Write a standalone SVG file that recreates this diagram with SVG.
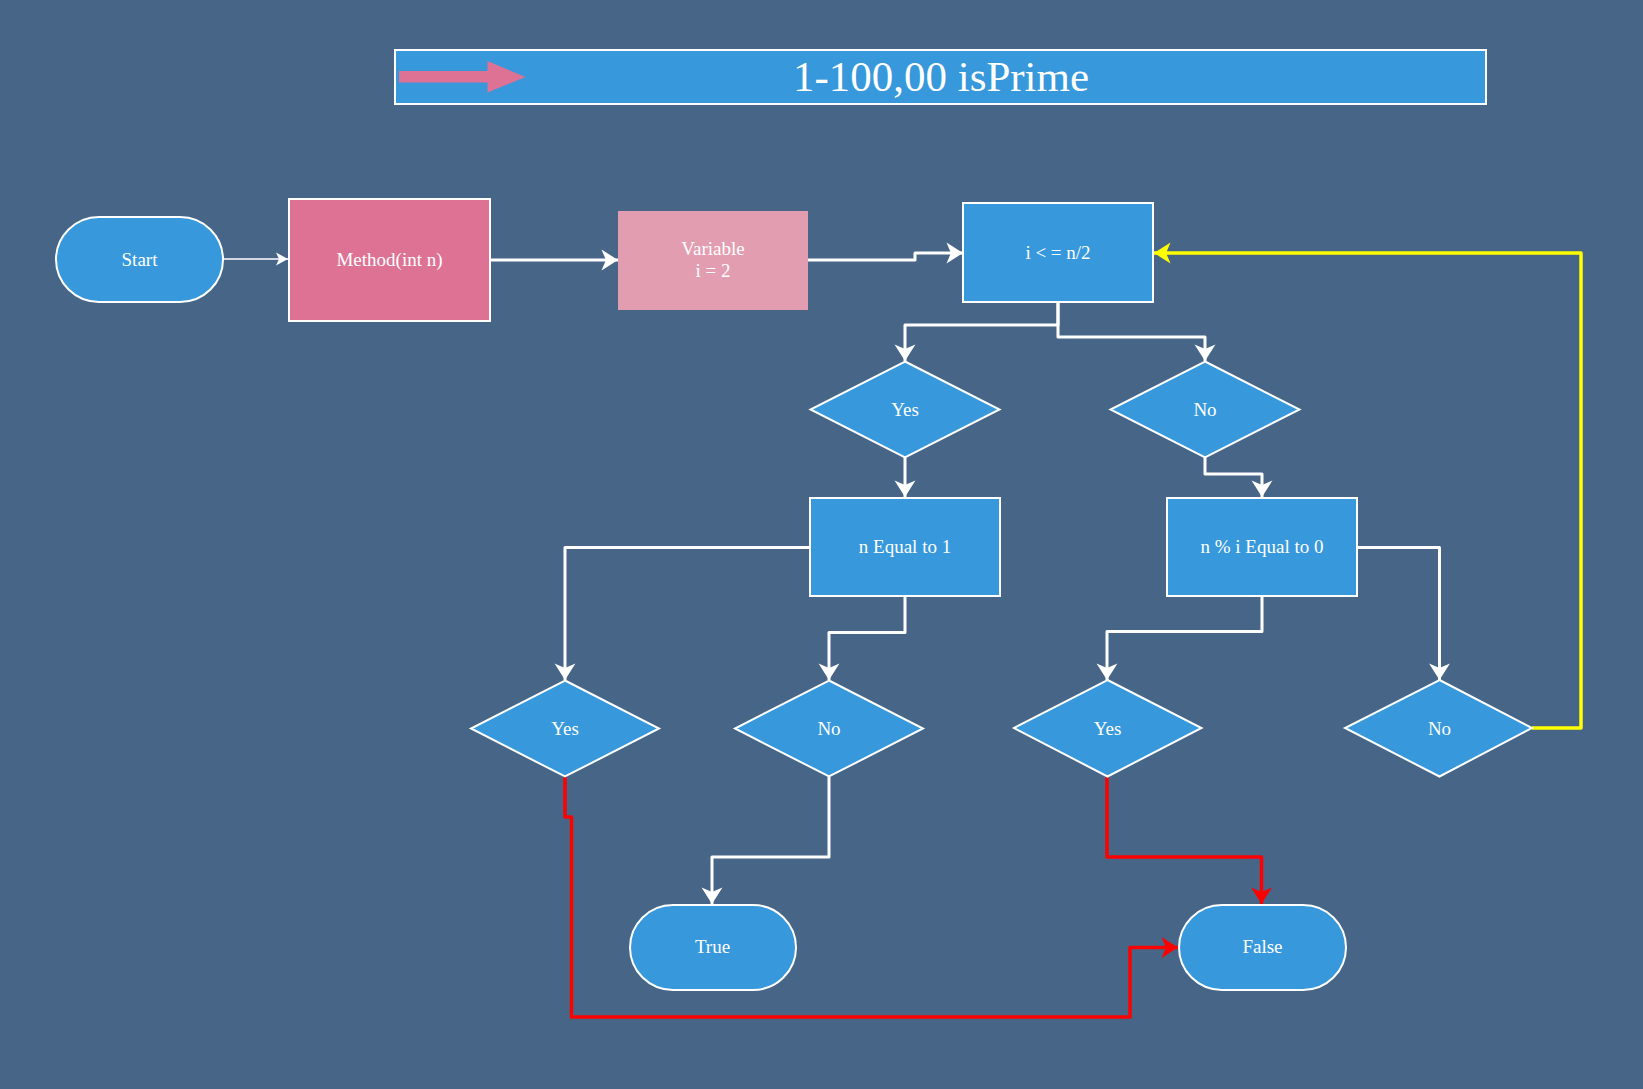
<svg xmlns="http://www.w3.org/2000/svg" width="1643" height="1089" viewBox="0 0 1643 1089">
<style>
.bg{fill:#476687}
.blue{fill:#3798db;stroke:#ffffff;stroke-width:2}
.pink{fill:#dd7295;stroke:#ffffff;stroke-width:2}
.lpink{fill:#e39db0}
.lbl{font-family:"Liberation Serif","Times New Roman",serif;font-size:19px;fill:#ffffff;text-anchor:middle}
.w{fill:none;stroke:#ffffff;stroke-width:3;stroke-linejoin:round}
.wt{fill:none;stroke:#ffffff;stroke-width:1.5}
.r{fill:none;stroke:#ff0000;stroke-width:3.5;stroke-linejoin:round}
.y{fill:none;stroke:#ffff00;stroke-width:3.5;stroke-linejoin:round}
</style>
<defs>
<marker id="aw" markerUnits="userSpaceOnUse" markerWidth="20" markerHeight="22" viewBox="-16 -10 17 20" refX="0" refY="0" orient="auto">
<path d="M-15,-9.5 L0,0 L-15,9.5 L-11,0 Z" fill="#ffffff"/>
</marker>
<marker id="aws" markerUnits="userSpaceOnUse" markerWidth="16" markerHeight="16" viewBox="-13 -8 14 16" refX="0" refY="0" orient="auto">
<path d="M-12,-6.5 L0,0 L-12,6.5 L-9,0 Z" fill="#ffffff"/>
</marker>
<marker id="ar" markerUnits="userSpaceOnUse" markerWidth="20" markerHeight="22" viewBox="-16 -10 17 20" refX="0" refY="0" orient="auto">
<path d="M-15,-9.5 L0,0 L-15,9.5 L-11,0 Z" fill="#ff0000"/>
</marker>
<marker id="ay" markerUnits="userSpaceOnUse" markerWidth="20" markerHeight="22" viewBox="-16 -10 17 20" refX="0" refY="0" orient="auto">
<path d="M-15,-9.5 L0,0 L-15,9.5 L-11,0 Z" fill="#ffff00"/>
</marker>
</defs>
<rect class="bg" x="0" y="0" width="1643" height="1089"/>

<g id="title">
<rect x="395" y="50" width="1091" height="54" fill="#3798db" stroke="#ffffff" stroke-width="2"/>
<path d="M399,71 H487.5 V61 L525.5,77 L487.5,92.5 V82.5 H399 Z" fill="#dd7295"/>
<text x="941" y="91" font-family="'Liberation Serif','Times New Roman',serif" font-size="43" fill="#ffffff" text-anchor="middle">1-100,00 isPrime</text>
</g>

<g id="connectors">
<path class="wt" d="M223,259 H288" marker-end="url(#aws)"/>
<path class="w" d="M490,260 H618" marker-end="url(#aw)"/>
<path class="w" d="M808,260 H915 V253 H963" marker-end="url(#aw)"/>
<path class="w" d="M1058,302 V325 H905 V361" marker-end="url(#aw)"/>
<path class="w" d="M1058,302 V337 H1205 V361" marker-end="url(#aw)"/>
<path class="w" d="M905,457 V497" marker-end="url(#aw)"/>
<path class="w" d="M1205,457 V474 H1262 V497" marker-end="url(#aw)"/>
<path class="w" d="M810,547.5 H565 V680" marker-end="url(#aw)"/>
<path class="w" d="M905,596 V632.5 H829 V680" marker-end="url(#aw)"/>
<path class="w" d="M1262,596 V631.5 H1107 V680" marker-end="url(#aw)"/>
<path class="w" d="M1357,547.5 H1439.5 V680" marker-end="url(#aw)"/>
<path class="w" d="M829,777 V857 H712 V904" marker-end="url(#aw)"/>
<path class="y" d="M1532,728 H1581 V253 H1154" marker-end="url(#ay)"/>
<path class="r" d="M565,777 V817 H571.5 V1017 H1130 V947.5 H1178" marker-end="url(#ar)"/>
<path class="r" d="M1107,777 V857 H1261.5 V904" marker-end="url(#ar)"/>
</g>

<g id="start">
<rect class="blue" x="56" y="217" width="167" height="85" rx="43" ry="42.5"/>
<text class="lbl" x="139.5" y="266">Start</text>
</g>
<g id="method">
<rect class="pink" x="289" y="199" width="201" height="122"/>
<text class="lbl" x="389.5" y="266">Method(int n)</text>
</g>
<g id="variable">
<rect class="lpink" x="618" y="211" width="190" height="99"/>
<text class="lbl" x="713" y="255">Variable</text>
<text class="lbl" x="713" y="277">i = 2</text>
</g>
<g id="cond">
<rect class="blue" x="963" y="203" width="190" height="99"/>
<text class="lbl" x="1058" y="259">i &lt; = n/2</text>
</g>
<g id="yes1">
<polygon class="blue" points="905,361.5 999.5,409.5 905,457.5 810.5,409.5"/>
<text class="lbl" x="905" y="416">Yes</text>
</g>
<g id="no1">
<polygon class="blue" points="1205,361.5 1299.5,409.5 1205,457.5 1110.5,409.5"/>
<text class="lbl" x="1205" y="416">No</text>
</g>
<g id="eq1">
<rect class="blue" x="810" y="498" width="190" height="98"/>
<text class="lbl" x="905" y="553">n Equal to 1</text>
</g>
<g id="mod0">
<rect class="blue" x="1167" y="498" width="190" height="98"/>
<text class="lbl" x="1262" y="553">n % i Equal to 0</text>
</g>
<g id="yes2">
<polygon class="blue" points="565,680.5 659,728.5 565,776.5 471,728.5"/>
<text class="lbl" x="565" y="735">Yes</text>
</g>
<g id="no2">
<polygon class="blue" points="829,680.5 923,728.5 829,776.5 735,728.5"/>
<text class="lbl" x="829" y="735">No</text>
</g>
<g id="yes3">
<polygon class="blue" points="1107.5,680 1201.5,728 1107.5,776.5 1014,728"/>
<text class="lbl" x="1107.5" y="735">Yes</text>
</g>
<g id="no3">
<polygon class="blue" points="1439.5,680 1532,728 1439.5,776.5 1345,728"/>
<text class="lbl" x="1439.5" y="735">No</text>
</g>
<g id="true">
<rect class="blue" x="630" y="905" width="166" height="85" rx="43" ry="42.5"/>
<text class="lbl" x="712.5" y="953">True</text>
</g>
<g id="false">
<rect class="blue" x="1179" y="905" width="167" height="85" rx="43" ry="42.5"/>
<text class="lbl" x="1262.5" y="953">False</text>
</g>
</svg>
